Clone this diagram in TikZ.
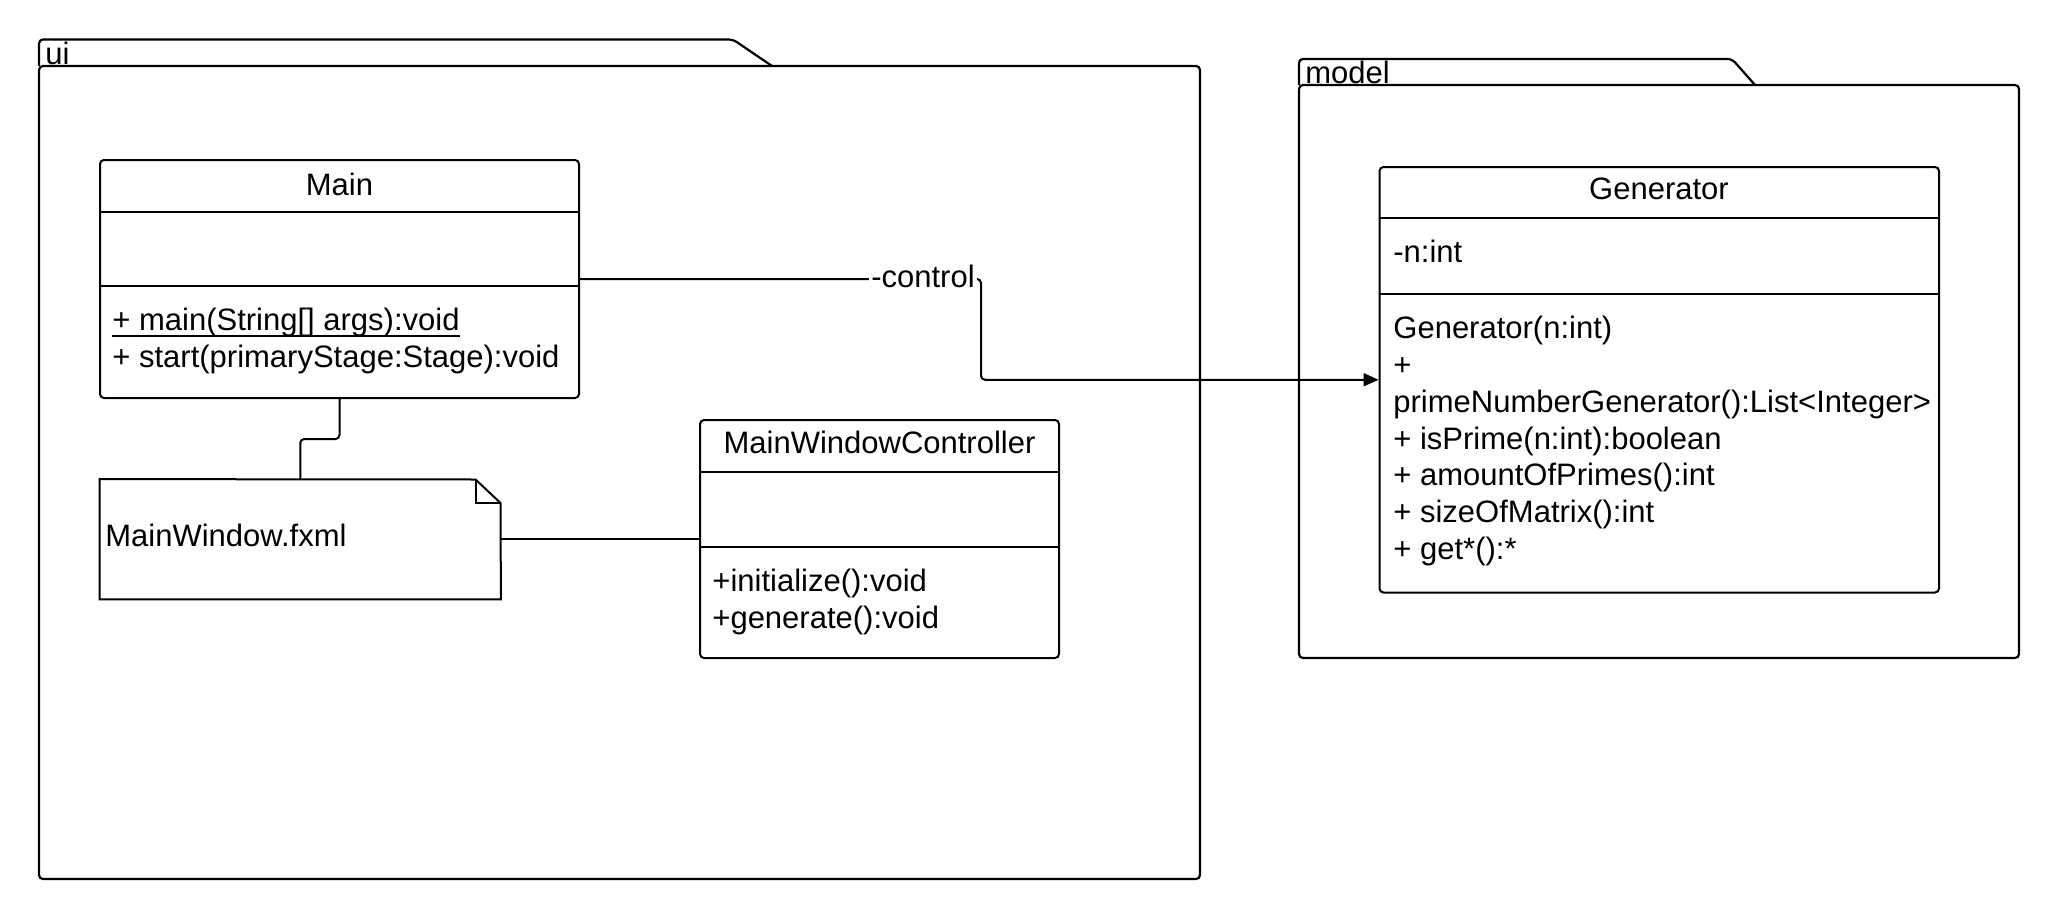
\documentclass[tikz,border=0pt]{standalone}
\usepackage{fontspec}
\setmainfont{Liberation Sans}
\usetikzlibrary{arrows.meta,fit}
\begin{document}
\begin{tikzpicture}[x=0.5pt,y=-0.5pt,
  line/.style={line width=1pt},
  pkg/.style={line width=1.1pt, rounded corners=2pt},
  box/.style={draw, line width=1pt, rounded corners=2pt, inner sep=0pt},
  txt/.style={font=\fontsize{15.5pt}{18pt}\selectfont},
  title/.style={txt, anchor=mid, inner sep=0pt},
  member/.style={txt, anchor=mid west, inner sep=0pt},
  pkglabel/.style={txt, anchor=base west, inner sep=0pt},
  conn/.style={line width=1pt, rounded corners=2pt}]
\useasboundingbox[fill=white] (0,0) rectangle (2060,920);

% packages
\draw[pkg] (39,66) -- (39,39.5) -- (733,39.5) -- (772,66);
\draw[pkg] (39,66) rectangle (1200,879);
\node[pkglabel] (uilabel) at (45,65) {ui};

\draw[pkg] (1299,85) -- (1299,59) -- (1732,59) -- (1755,85);
\draw[pkg] (1299,85) rectangle (2019,658);
\node[pkglabel] (modellabel) at (1305,84) {model};

% Main class
\node[box, fit={(100,160)(579,398)}] (main) {};
\draw[line] (main.west |- 0,211.5) -- (main.east |- 0,211.5);
\draw[line] (main.west |- 0,286) -- (main.east |- 0,286);
\node[title] (maint) at (339.5,190) {Main};
\node[member] (mainm1) at (112,325) {+ main(String[] args):void};
\draw[line width=1.2pt] ([yshift=-3pt]mainm1.base west) -- ([yshift=-3pt]mainm1.base east);
\node[member] (mainm2) at (112,362) {+ start(primaryStage:Stage):void};

% MainWindowController class
\node[box, fit={(700,420)(1059,658)}] (mwc) {};
\draw[line] (mwc.west |- 0,471.6) -- (mwc.east |- 0,471.6);
\draw[line] (mwc.west |- 0,546.5) -- (mwc.east |- 0,546.5);
\node[title] (mwct) at (879.5,448) {MainWindowController};
\node[member] (mwcm1) at (712,586) {+initialize():void};
\node[member] (mwcm2) at (712,623) {+generate():void};

% Generator class
\node[box, fit={(1379.5,167)(1939,592.5)}] (gen) {};
\draw[line] (gen.west |- 0,218) -- (gen.east |- 0,218);
\draw[line] (gen.west |- 0,294) -- (gen.east |- 0,294);
\node[title] (gent) at (1659,194) {Generator};
\node[member] (gena1) at (1393,257) {-n:int};
\node[member] (genm1) at (1393,333.5) {Generator(n:int)};
\node[member] (genm2) at (1393,370.3) {+};
\node[member] (genm3) at (1393,407.1) {primeNumberGenerator():List<Integer>};
\node[member] (genm4) at (1393,443.9) {+ isPrime(n:int):boolean};
\node[member] (genm5) at (1393,480.7) {+ amountOfPrimes():int};
\node[member] (genm6) at (1393,517.5) {+ sizeOfMatrix():int};
\node[member] (genm7) at (1393,554.3) {+ get*():*};

% Note MainWindow.fxml
\node[fit={(100,479.5)(500.5,599)}, inner sep=0pt] (note) {};
\draw[line] (note.north west) -- (475.6,479.5) -- (500.5,503) -- (note.south east) -- (note.south west) -- cycle;
\draw[line] (475.6,479.5) -- (475.6,503) -- (500.5,503);
\node[member] (notet) at (105,541) {MainWindow.fxml};

% connectors
\coordinate (cx) at (981,0);
\draw[conn, -{Triangle[length=7.5pt,width=6.5pt]}] (main.east) -- (main.east -| cx) -- (cx |- gen.west) -- (gen.west);
\node[txt, fill=white, inner sep=1pt, anchor=mid] (ctl) at (923,282) {-control};

\coordinate (my) at (0,439);
\draw[conn] (main.south) -- (main.south |- my) -- (note.north |- my) -- (note.north);
\draw[conn] (note.east) -- (mwc.west |- note.east);
\end{tikzpicture}
\end{document}
